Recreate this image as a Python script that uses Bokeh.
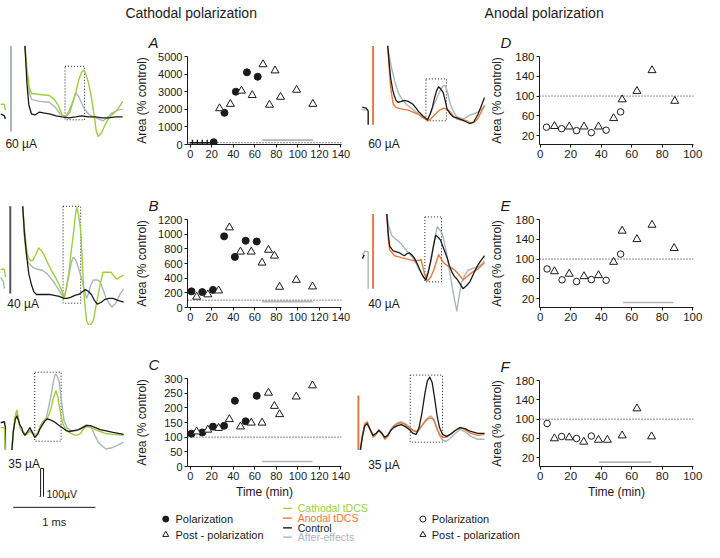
from bokeh.plotting import figure
from bokeh.layouts import row, column
from bokeh.models import Range1d, FixedTicker, Span
from bokeh.core.properties import value
from bokeh.embed import file_html
from bokeh.resources import INLINE

FONT = "Liberation Sans"
GREEN = "#9dcf3a"
ORANGE = "#e8793a"
GRAY = "#a9b6ba"
BLACK = "#1b1b1b"
BAR = "#b5b5b5"
CONTROL_LEVEL = 100

# ---------------- scatter data (time in min, area in % of control) -------------
A_POL_T = [21.8, 31.8, 42.4, 52.7, 62.7]
A_POL_V = [130, 1800, 3000, 4100, 3850]
A_POL_LOW_T = [2.1, 6.7, 11.2, 15.8]
A_POL_LOW_V = [100, 100, 100, 100]
A_POST_T = [27.3, 37.3, 47.6, 57.6, 67.6, 73.6, 78.8, 83.9, 98.8, 113.9]
A_POST_V = [2050, 2300, 3050, 2800, 4550, 2250, 4200, 2700, 3100, 2300]
A_AFTER_T = [67, 114]
A_AFTER_V = [250, 250]

B_POL_T = [1.2, 11.2, 21.2, 31.5, 41.5, 51.5, 61.8]
B_POL_V = [220, 210, 240, 970, 690, 910, 900]
B_POST_T = [6, 16.4, 26.4, 36.4, 46.7, 56.7, 66.7, 72.7, 78.2, 83, 98.5, 113.6]
B_POST_V = [145, 177, 230, 1090, 760, 760, 610, 785, 705, 280, 375, 285]
B_AFTER_T = [66.7, 113.6]
B_AFTER_V = [80, 80]

C_POL_T = [1.2, 11.2, 21.2, 31.5, 41.5, 51.5, 61.8]
C_POL_V = [112, 116, 136, 139, 224, 154, 241]
C_POST_T = [6, 16.4, 26.4, 36.4, 46.7, 56.7, 66.7, 72.7, 78.2, 83, 98.5, 113.6]
C_POST_V = [119, 125, 131, 161, 136, 149, 149, 251, 206, 178, 238, 276]
C_AFTER_T = [66.7, 113.6]
C_AFTER_V = [17, 17]

D_POL_T = [4.1, 14, 23.8, 33.5, 43.2, 52.7]
D_POL_V = [37, 34, 30, 26, 31, 68]
D_POST_T = [9.3, 19, 28.7, 38.2, 48.1, 53.7, 63.4, 73.3, 88.2]
D_POST_V = [39, 38, 38, 38, 55, 93, 110, 152, 90]

E_POL_T = [4.5, 14.3, 23.8, 33.5, 43.2, 52.7]
E_POL_V = [80, 58, 54.5, 58.5, 57, 110]
E_POST_T = [9.3, 19, 28.7, 38.2, 48.1, 53.7, 63.4, 73.3, 87.8]
E_POST_V = [75, 70, 65, 67, 94, 157, 140, 169, 122]
E_AFTER_T = [54.3, 87.4]
E_AFTER_V = [12, 12]

F_POL_T = [4.5, 14, 23.8, 33.5]
F_POL_V = [91, 64, 60, 65]
F_POST_T = [9.3, 19, 28.5, 38.2, 44, 53.7, 63.4, 73]
F_POST_V = [60, 62, 53, 57, 57, 66, 122, 64]
F_AFTER_T = [38.6, 73]
F_AFTER_V = [11, 11]

A_TICKS_Y = [0, 1000, 2000, 3000, 4000, 5000]
B_TICKS_Y = [0, 200, 400, 600, 800, 1000, 1200]
C_TICKS_Y = [0, 50, 100, 150, 200, 250, 300]
DEF_TICKS_Y = [20, 60, 100, 140, 180]
ABC_TICKS_X = [0, 20, 40, 60, 80, 100, 120, 140]
DEF_TICKS_X = [0, 20, 40, 60, 80, 100]

# ---------------- field-potential traces (sample, deflection) -------------------
# Cathodal, 60 uA
L1_PRE_GREEN = [(0, 107), (4, 107), (5, 113)]
L1_PRE_BLACK = [(0, 117), (4, 119), (5, 122)]
L1_ART = [(10.7, 47), (10.7, 135)]
L1_CTRL = [(25, 47), (27, 85), (29, 108), (31.7, 117), (35, 118), (40, 115), (45, 116), (50, 117),
           (57, 119), (63, 120), (70, 121), (77, 120), (83, 119), (90, 120), (97, 120), (104, 121),
           (110, 121), (118, 120), (125, 120)]
L1_POL = [(25, 47), (27, 70), (29.5, 90), (31.7, 96), (40, 97), (50, 98), (55, 102), (59, 108),
          (63, 118), (67, 120), (71, 115), (74, 105), (77, 95), (80, 82), (83, 74), (85, 72), (87, 75),
          (90, 85), (93, 100), (96, 120), (98, 135), (100, 140), (103, 137), (107, 128), (111, 121),
          (115, 117), (120, 112), (125, 104)]
L1_AFTER = [(25, 47), (27, 75), (29.5, 95), (31.7, 102), (40, 104), (50, 105), (56, 110), (61, 117),
            (66, 120), (70, 114), (74, 104), (77, 95), (80, 99), (83, 106), (86, 112), (90, 117),
            (95, 120), (100, 122), (105, 124), (110, 120), (114, 116), (120, 113), (125, 112)]
L1_WIN = [66, 86, 68, 123]

# Cathodal, 40 uA
L2_PRE_GREEN = [(0, 277), (4, 277), (5, 285)]
L2_PRE_GRAY = [(0, 285), (3, 290), (4, 297)]
L2_ART = [(10, 212), (10, 302)]
L2_CTRL = [(22.7, 212), (24.5, 240), (26.7, 263), (29, 282), (31.7, 293), (34, 300), (36.7, 303),
           (42, 303), (50, 303), (55, 304), (60, 305), (65, 307), (68, 307), (71.7, 306), (76, 304),
           (80, 303), (84, 300), (87, 298), (90, 300), (93, 303), (96, 309), (99, 313), (103, 311),
           (107, 308), (111, 307), (115, 307), (120, 309), (126, 311)]
L2_POL = [(22.7, 212), (24.5, 235), (26.5, 255), (28.3, 265), (31, 268), (33, 268), (36, 262),
          (39, 255), (42, 258), (45, 263), (49, 272), (53, 280), (57, 287), (60, 293), (63, 300),
          (65, 307), (67, 298), (70, 280), (72.5, 257), (75, 237), (76.5, 222), (78, 213), (80, 222),
          (82, 237), (83.5, 265), (85, 297), (86.5, 315), (88, 330), (91, 336), (95, 330), (98, 313),
          (100, 303), (102, 292), (105, 280), (109, 280), (113, 280), (116, 284), (119, 287),
          (122, 285), (126, 283)]
L2_AFTER = [(22.7, 212), (24.5, 245), (26.5, 262), (28.3, 270), (31, 273), (33, 275), (38, 277),
            (43, 278), (48, 282), (53, 288), (57, 294), (62, 302), (65, 307), (67, 298), (70.7, 280),
            (72.5, 270), (74, 265), (76, 266), (78, 270), (80.5, 278), (83, 287), (85.5, 297),
            (88, 307), (90, 302), (92, 294), (95, 288), (99, 288), (102, 290), (105, 298), (108, 307),
            (111, 312), (114, 316), (117, 313), (120, 308), (122, 303), (124, 300), (126, 297)]
L2_WIN = [64, 82, 212, 312]

# Cathodal, 35 uA
L3_PRE_BLACK = [(0, 435), (4, 434), (5, 440), (5, 463)]
L3_PRE_GREEN = [(0, 440), (4, 440), (5, 463)]
L3_CTRL = [(11.7, 463), (13, 445), (15, 432), (16.7, 428), (18.5, 433), (20, 438), (21.7, 440),
           (23, 445), (25, 448), (27, 445), (30, 440), (32, 444), (35, 450), (38, 447), (40.5, 441),
           (43, 437), (45.5, 433), (48, 431), (51, 432), (55, 434), (59, 437), (63, 440), (67, 443),
           (70, 444), (75, 443), (80, 442), (84, 440), (88, 438), (92, 438), (97, 440), (102, 442),
           (107, 443), (115, 445), (126, 447)]
L3_POL = [(11.7, 463), (13, 445), (15, 428), (16.7, 422), (18.5, 432), (20, 440), (21.7, 443),
          (24, 446), (26.7, 447), (29, 445), (30.7, 444), (33, 447), (36, 450), (38, 446),
          (40.7, 438), (43.5, 434), (46.7, 432), (49.5, 427), (51.7, 420), (54, 410), (56.7, 402),
          (58.5, 408), (60, 417), (62, 428), (64, 437), (67, 442), (70, 445), (74, 447), (78, 448),
          (82, 446), (85, 441), (88, 439), (92, 440), (97, 442), (102, 444), (107, 446), (115, 447),
          (126, 448)]
L3_AFTER = [(11.7, 463), (13, 445), (15, 430), (16.7, 423), (18.5, 432), (20, 440), (21.7, 443),
            (24, 445), (26.7, 447), (29, 444), (31.7, 443), (34, 446), (36.7, 448), (39, 443),
            (41.7, 437), (44, 433), (46.7, 430), (49, 420), (51.7, 407), (54, 393), (56, 385),
            (58, 387), (60, 393), (62, 410), (65, 433), (68, 440), (71.7, 443), (75, 443.5), (78, 443),
            (83, 440), (88, 437), (91, 438), (93, 440), (96, 447), (100, 455), (104, 459), (108, 462),
            (113, 461), (120, 458), (126, 455)]
L3_WIN = [35, 62, 383, 454]

# calibration: 100 uV / 1 ms
CAL_V = [(40, 511), (41, 511), (41, 482), (44, 482), (44, 511)]
CAL_T = [(13, 522), (97, 522)]

# Anodal, 60 uA
R1_PRE_BLACK = [(370, 110), (374, 111), (376, 114), (376, 128)]
R1_PRE_GRAY = [(369, 112), (374, 113)]
R1_ART = [(381, 47), (381, 128)]
R1_CTRL = [(396, 47), (397.5, 65), (399, 80), (401, 92), (402.7, 98), (404.5, 103), (406.7, 105),
           (410, 104), (413, 103), (417, 104), (421.7, 107), (425, 111), (428, 115), (432, 119),
           (436.7, 123), (439, 118), (441.7, 110), (444, 100), (446, 93), (448, 89), (450, 91),
           (452.7, 95), (455, 104), (456.7, 112), (460, 117), (463, 120), (467, 121), (471.7, 123),
           (476, 125), (480, 127), (484, 125), (488, 118), (492, 108), (495, 100)]
R1_POL = [(396, 47), (397.5, 70), (399, 90), (400.5, 100), (401.7, 107), (404, 110), (406.7, 111),
          (411, 112), (416.7, 113), (422, 115), (426.7, 117), (431, 120), (436.7, 124), (440, 122),
          (445, 117), (449, 113), (453.3, 111), (456.5, 112), (460, 115), (463, 119), (466.7, 122),
          (470, 123), (473.3, 123), (477, 124), (480, 126), (484, 126), (488, 122), (492, 114),
          (495, 108)]
R1_AFTER = [(396, 47), (398, 60), (400, 70), (403, 83), (406.7, 95), (410, 101), (415, 107),
            (420, 111), (425, 115), (430, 119), (436.7, 123), (440, 116), (443, 108), (446.5, 100),
            (450, 92), (453, 88), (455, 88), (457.5, 96), (460, 107), (463, 114), (466.7, 120),
            (470, 121), (473.3, 122), (477, 120), (480, 118), (484, 117), (488, 115), (492, 112),
            (495, 110)]
R1_WIN = [435, 456, 81, 124]

# Anodal, 40 uA
R2_PRE_GRAY = [(370, 262), (373, 258), (376, 259), (376, 297)]
R2_PRE_BLACK = [(370, 266), (372, 262)]
R2_ART = [(381, 220), (381, 297)]
R2_CTRL = [(395, 220), (396.5, 240), (398, 253), (400, 256), (401.7, 258), (405, 259), (408, 260),
           (411, 262), (413, 263), (415.5, 261), (418, 260), (420.5, 262), (423, 265), (426.5, 272),
           (430, 280), (432.5, 285), (435, 288), (437.5, 280), (440, 268), (442.5, 255), (445, 242),
           (447.5, 244), (450, 247), (453, 255), (456.7, 265), (459, 273), (461.7, 280), (464, 284),
           (466.7, 287), (470, 292), (473, 297), (476.5, 294), (480, 290), (484, 281), (488, 273),
           (492, 267), (495, 263)]
R2_POL = [(395, 220), (396.5, 245), (398, 257), (400.5, 260), (403, 263), (406.5, 264), (410, 265),
          (414, 266), (418, 267), (421.5, 268), (425, 268), (428, 268), (430, 267), (432, 275),
          (434, 283), (435.5, 287), (437, 289), (440, 285), (443, 278), (445.5, 270), (448, 262),
          (450.5, 266), (453, 270), (456.5, 273), (460, 275), (463.5, 277), (466.7, 280), (470, 284),
          (473, 288), (476.5, 285), (480, 282), (484, 279), (488, 277), (492, 273), (495, 270)]
R2_AFTER = [(395, 220), (397, 232), (400, 242), (403, 245), (406.7, 248), (410, 251), (413, 255),
            (417, 260), (421.7, 265), (425, 271), (428, 277), (431, 282), (434, 287), (437, 280),
            (440, 270), (443, 250), (446.7, 233), (449, 236), (451.7, 240), (454, 250), (456.7, 263),
            (459, 278), (461.7, 293), (464, 307), (466.7, 320), (469, 305), (471.7, 290), (475, 283),
            (478, 278), (483, 276), (488, 275), (492, 272), (495, 268)]
R2_WIN = [434, 451, 223, 290]

# Anodal, 35 uA
R3_ART = [(366, 407), (366, 463)]
R3_CTRL = [(368, 463), (370, 450), (372.5, 438), (375, 436), (378, 442), (381, 448), (384, 446),
           (387, 443), (390, 446), (393, 450), (396, 448), (399, 443), (402, 440), (406, 438),
           (410, 437), (414, 439), (418, 442), (422, 446), (425, 447), (428, 440), (431, 425),
           (434, 405), (436.5, 392), (439, 388), (441.5, 394), (444, 410), (446.5, 428), (449, 440),
           (452, 447), (456, 449), (460, 447), (465, 443), (470, 440), (475, 441), (481, 444),
           (488, 446), (495, 446)]
R3_POL = [(368, 463), (370, 448), (372.5, 436), (375, 434), (378, 442), (381, 450), (384, 447),
          (387, 443), (390, 446), (393, 452), (396, 449), (399, 443), (402, 439), (406, 436),
          (410, 435), (414, 437), (418, 440), (422, 443), (426, 444), (430, 439), (434, 434),
          (437, 431), (440, 430), (443, 432), (446, 440), (449, 447), (452, 450), (456, 450),
          (460, 447), (465, 443), (470, 440), (475, 442), (481, 446), (488, 448), (495, 447)]
R3_AFTER = [(368, 463), (370, 449), (372.5, 437), (375, 435), (378, 442), (381, 449), (384, 446),
            (387, 442), (390, 445), (393, 451), (396, 448), (399, 442), (402, 438), (406, 435),
            (410, 434), (414, 436), (418, 439), (422, 443), (426, 445), (430, 440), (434, 433),
            (437, 430), (440, 428), (443, 431), (446, 440), (449, 448), (452, 453), (456, 454),
            (460, 451), (465, 446), (470, 442), (475, 444), (481, 449), (488, 452), (495, 452)]
R3_WIN = [419, 452, 386, 455]

# ---------------- layout geometry (reference picture pixels) --------------------
REF_W, REF_H = 720, 558
W, H = 704, 542
SX, SY = W / REF_W, H / REF_H
COLS = [0, 135, 362, 496, 720]
ROWS = [0, 24, 172, 335, 516, 558]


def ox(x):
    return int(round(x * SX))


def oy(y):
    return int(round(y * SY))


def blank(x0, x1, y0, y1):
    p = figure(width=ox(x1) - ox(x0), height=oy(y1) - oy(y0),
               x_range=Range1d(x0, x1), y_range=Range1d(y1, y0),
               toolbar_location=None, output_backend="svg", title=None,
               x_axis_type=None, y_axis_type=None, min_border=0)
    p.outline_line_color = None
    p.background_fill_color = "white"
    p.border_fill_color = "white"
    return p


def xs(pts):
    return [a for a, b in pts]


def ys(pts):
    return [b for a, b in pts]


def txt(p, x, y, s, size="11px", color=BLACK, align="left", style="normal"):
    p.text(x=[x], y=[y], text=[s], text_font=value(FONT), text_font_size=value(size),
           text_color=color, text_align=align, text_baseline="middle", text_font_style=style)


def trace_panel(col, rw, pre, art, art_color, after, pol, pol_color, ctrl, win, label, lab_xy):
    p = blank(COLS[col], COLS[col + 1], ROWS[rw], ROWS[rw + 1])
    for pts, c in pre:
        p.line(xs(pts), ys(pts), line_color=c, line_width=1.4)
    if art is not None:
        p.line(xs(art), ys(art), line_color=art_color, line_width=2)
    p.quad(left=[win[0]], right=[win[1]], top=[win[2]], bottom=[win[3]], fill_color=None,
           line_color=BLACK, line_dash="1 2", line_width=1)
    p.line(xs(after), ys(after), line_color=GRAY, line_width=1.4, line_join="round")
    p.line(xs(pol), ys(pol), line_color=pol_color, line_width=1.4, line_join="round")
    p.line(xs(ctrl), ys(ctrl), line_color=BLACK, line_width=1.3, line_join="round")
    txt(p, lab_xy[0], lab_xy[1], label, size="12px")
    return p


def scatter_panel(col, rw, frame, xr, yr, xticks, yticks, letter, ylab_standoff,
                  tick_fs="11px", xlabel=None):
    cx0, cx1 = COLS[col], COLS[col + 1]
    ry0, ry1 = ROWS[rw], ROWS[rw + 1]
    fx0, fy0, fx1, fy1 = frame
    p = figure(width=ox(cx1) - ox(cx0), height=oy(ry1) - oy(ry0),
               x_range=Range1d(*xr), y_range=Range1d(*yr),
               toolbar_location=None, output_backend="svg", title=letter,
               min_border_left=ox(fx0) - ox(cx0), min_border_right=ox(cx1) - ox(fx1),
               min_border_top=oy(fy0) - oy(ry0), min_border_bottom=oy(ry1) - oy(fy1))
    p.xaxis.ticker = FixedTicker(ticks=xticks)
    p.yaxis.ticker = FixedTicker(ticks=yticks)
    for ax in p.axis:
        ax.axis_line_color = BLACK
        ax.axis_line_width = 1
        ax.major_tick_line_color = BLACK
        ax.major_tick_in = 0
        ax.major_tick_out = 3
        ax.minor_tick_line_color = None
        ax.major_label_text_font = FONT
        ax.major_label_text_font_size = tick_fs
        ax.major_label_text_color = BLACK
        ax.major_label_standoff = 2
        ax.axis_label_text_font = FONT
        ax.axis_label_text_font_size = "12px"
        ax.axis_label_text_font_style = "normal"
        ax.axis_label_text_color = BLACK
    p.yaxis.axis_label = "Area (% control)"
    p.yaxis.axis_label_standoff = ylab_standoff
    if xlabel:
        p.xaxis.axis_label = xlabel
        p.xaxis.axis_label_standoff = 2
    p.grid.visible = False
    p.outline_line_color = None
    p.title.text_font = FONT
    p.title.text_font_size = "15px"
    p.title.text_font_style = "italic"
    p.title.text_color = BLACK
    p.title.align = "left"
    p.title.offset = ox(fx0 - 40) - ox(fx0)
    p.title.standoff = 12
    p.add_layout(Span(location=CONTROL_LEVEL, dimension="width", line_color=BLACK,
                      line_dash="1 2", line_width=1))
    return p


# ---------------- title band --------------------------------------------------
top = blank(0, REF_W, ROWS[0], ROWS[1])
txt(top, 195, 13, "Cathodal polarization", size="14px", align="center")
txt(top, 556, 13, "Anodal polarization", size="14px", align="center")

# ---------------- column 1: cathodal traces ------------------------------------
t1 = trace_panel(0, 1, [(L1_PRE_GREEN, GREEN), (L1_PRE_BLACK, BLACK)], L1_ART, GRAY,
                 L1_AFTER, L1_POL, GREEN, L1_CTRL, L1_WIN, "60 µA", (5, 148))
t2 = trace_panel(0, 2, [(L2_PRE_GREEN, GREEN), (L2_PRE_GRAY, GRAY)], L2_ART, "#555555",
                 L2_AFTER, L2_POL, GREEN, L2_CTRL, L2_WIN, "40 µA", (7, 313))
t3 = trace_panel(0, 3, [(L3_PRE_BLACK, BLACK), (L3_PRE_GREEN, GREEN)], None, BLACK,
                 L3_AFTER, L3_POL, GREEN, L3_CTRL, L3_WIN, "35 µA", (8, 477))
t3.line(xs(CAL_V), ys(CAL_V), line_color=BLACK, line_width=1)
txt(t3, 47, 508, "100µV", size="10.5px")

# ---------------- column 2: cathodal scatter -----------------------------------
ABC_XR = (-2.5, 140.5)
pA = scatter_panel(1, 1, (191.7, 57.3, 348.5, 148.3), ABC_XR, (0, 5000), ABC_TICKS_X, A_TICKS_Y, "A", 6)
pA.line(A_AFTER_T, A_AFTER_V, line_color=BAR, line_width=1.6)
pA.scatter(A_POL_LOW_T, A_POL_LOW_V, marker="cross", size=6, line_color=BLACK, line_width=1.4)
pA.scatter(A_POL_T, A_POL_V, marker="circle", size=7, fill_color=BLACK, line_color=BLACK)
pA.scatter(A_POST_T, A_POST_V, marker="triangle", size=8, fill_color="white", line_color=BLACK)

pB = scatter_panel(1, 2, (191.7, 225.7, 348.5, 316), ABC_XR, (0, 1200), ABC_TICKS_X, B_TICKS_Y, "B", 6)
pB.line(B_AFTER_T, B_AFTER_V, line_color=BAR, line_width=1.6)
pB.scatter(B_POL_T, B_POL_V, marker="circle", size=7, fill_color=BLACK, line_color=BLACK)
pB.scatter(B_POST_T, B_POST_V, marker="triangle", size=8, fill_color="white", line_color=BLACK)

pC = scatter_panel(1, 3, (191.7, 389, 348.5, 481), ABC_XR, (0, 300), ABC_TICKS_X, C_TICKS_Y, "C", 12,
                   xlabel="Time (min)")
pC.line(C_AFTER_T, C_AFTER_V, line_color=BAR, line_width=1.6)
pC.scatter(C_POL_T, C_POL_V, marker="circle", size=7, fill_color=BLACK, line_color=BLACK)
pC.scatter(C_POST_T, C_POST_V, marker="triangle", size=8, fill_color="white", line_color=BLACK)

# ---------------- column 3: anodal traces --------------------------------------
u1 = trace_panel(2, 1, [(R1_PRE_GRAY, GRAY), (R1_PRE_BLACK, BLACK)], R1_ART, ORANGE,
                 R1_AFTER, R1_POL, ORANGE, R1_CTRL, R1_WIN, "60 µA", (376, 148))
u2 = trace_panel(2, 2, [(R2_PRE_GRAY, GRAY), (R2_PRE_BLACK, BLACK)], R2_ART, ORANGE,
                 R2_AFTER, R2_POL, ORANGE, R2_CTRL, R2_WIN, "40 µA", (376, 313))
u3 = trace_panel(2, 3, [], R3_ART, ORANGE,
                 R3_AFTER, R3_POL, ORANGE, R3_CTRL, R3_WIN, "35 µA", (376, 478))

# ---------------- column 4: anodal scatter -------------------------------------
DEF_XR = (-0.5, 100.5)
pD = scatter_panel(3, 1, (551, 57.3, 709, 148.3), DEF_XR, (2, 180), DEF_TICKS_X, DEF_TICKS_Y, "D", 8,
                   tick_fs="11.5px")
pD.scatter(D_POL_T, D_POL_V, marker="circle", size=6.5, fill_color="white", line_color=BLACK)
pD.scatter(D_POST_T, D_POST_V, marker="triangle", size=8, fill_color="white", line_color=BLACK)

pE = scatter_panel(3, 2, (551, 225.7, 709, 316), DEF_XR, (2, 180), DEF_TICKS_X, DEF_TICKS_Y, "E", 8,
                   tick_fs="11.5px")
pE.line(E_AFTER_T, E_AFTER_V, line_color=BAR, line_width=1.6)
pE.scatter(E_POL_T, E_POL_V, marker="circle", size=6.5, fill_color="white", line_color=BLACK)
pE.scatter(E_POST_T, E_POST_V, marker="triangle", size=8, fill_color="white", line_color=BLACK)

pF = scatter_panel(3, 3, (551, 391, 709, 481), DEF_XR, (2, 180), DEF_TICKS_X, DEF_TICKS_Y, "F", 8,
                   tick_fs="11.5px", xlabel="Time (min)")
pF.line(F_AFTER_T, F_AFTER_V, line_color=BAR, line_width=1.6)
pF.scatter(F_POL_T, F_POL_V, marker="circle", size=6.5, fill_color="white", line_color=BLACK)
pF.scatter(F_POST_T, F_POST_V, marker="triangle", size=8, fill_color="white", line_color=BLACK)

# ---------------- legend band ---------------------------------------------------
leg = blank(0, REF_W, ROWS[4], ROWS[5])
leg.line(xs(CAL_T), ys(CAL_T), line_color=BLACK, line_width=1)
txt(leg, 55, 537, "1 ms", size="11px", align="center")
leg.scatter([169], [534], marker="circle", size=6, fill_color=BLACK, line_color=BLACK)
txt(leg, 179, 534, "Polarization")
leg.scatter([169], [550], marker="triangle", size=6, fill_color="white", line_color=BLACK)
txt(leg, 179, 550, "Post - polarization")
leg.scatter([432], [534], marker="circle", size=6, fill_color="white", line_color=BLACK)
txt(leg, 441, 534, "Polarization")
leg.scatter([432], [550], marker="triangle", size=6, fill_color="white", line_color=BLACK)
txt(leg, 441, 550, "Post - polarization")
for yy, lab, c in [(523, "Cathodal tDCS", GREEN), (533, "Anodal tDCS", ORANGE),
                   (543, "Control", BLACK), (552.5, "After-effects", GRAY)]:
    leg.line([289, 298], [yy, yy], line_color=c, line_width=1.4)
    txt(leg, 304, yy, lab, color=c, size="10.5px")

layout = column(top,
                row(column(t1, t2, t3), column(pA, pB, pC), column(u1, u2, u3), column(pD, pE, pF)),
                leg)

open("out.html", "w").write(file_html(layout, INLINE))
